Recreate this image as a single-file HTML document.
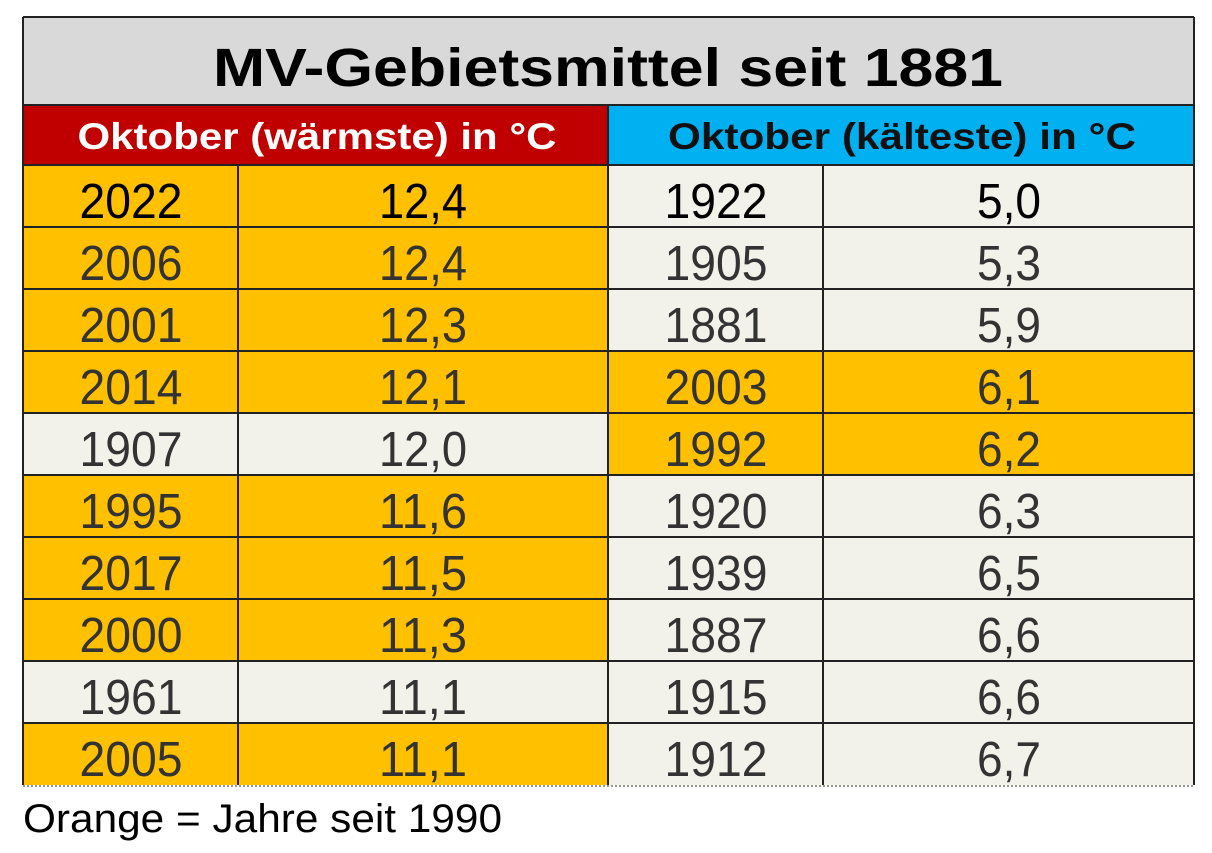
<!DOCTYPE html>
<html><head><meta charset="utf-8"><style>
html,body{margin:0;padding:0;background:#fff;width:1212px;height:853px;overflow:hidden}
svg{display:block}
text{font-family:"Liberation Sans",Arial,sans-serif}
</style></head><body>
<svg width="1212" height="853" viewBox="0 0 1212 853" xmlns="http://www.w3.org/2000/svg">
<rect x="0" y="0" width="1212" height="853" fill="#fff"/>
<rect x="23" y="17" width="1171" height="88" fill="#d9d9d9"/>
<rect x="23" y="105" width="585" height="60" fill="#c00000"/>
<rect x="608" y="105" width="586" height="60" fill="#00b0f0"/>
<g id="rows">
<!-- left -->
<rect x="23" y="165" width="585" height="62" fill="#ffc000"/>
<rect x="23" y="227" width="585" height="62" fill="#ffc000"/>
<rect x="23" y="289" width="585" height="62" fill="#ffc000"/>
<rect x="23" y="351" width="585" height="62" fill="#ffc000"/>
<rect x="23" y="413" width="585" height="62" fill="#f2f2ea"/>
<rect x="23" y="475" width="585" height="62" fill="#ffc000"/>
<rect x="23" y="537" width="585" height="62" fill="#ffc000"/>
<rect x="23" y="599" width="585" height="62" fill="#ffc000"/>
<rect x="23" y="661" width="585" height="62" fill="#f2f2ea"/>
<rect x="23" y="723" width="585" height="62" fill="#ffc000"/>
<!-- right -->
<rect x="608" y="165" width="586" height="620" fill="#f2f2ea"/>
<rect x="608" y="351" width="586" height="124" fill="#ffc000"/>
</g>
<g stroke="#222" stroke-width="2" fill="none">
<rect x="23" y="17" width="1171" height="768" stroke="none"/>
<line x1="23" y1="17" x2="1194" y2="17"/>
<line x1="23" y1="17" x2="23" y2="785"/>
<line x1="1194" y1="17" x2="1194" y2="785"/>
<line x1="23" y1="105" x2="1194" y2="105"/>
<line x1="608" y1="105" x2="608" y2="785"/>
<line x1="238" y1="165" x2="238" y2="785"/>
<line x1="823" y1="165" x2="823" y2="785"/>
<line x1="23" y1="165" x2="1194" y2="165"/>
<line x1="23" y1="227" x2="1194" y2="227"/>
<line x1="23" y1="289" x2="1194" y2="289"/>
<line x1="23" y1="351" x2="1194" y2="351"/>
<line x1="23" y1="413" x2="1194" y2="413"/>
<line x1="23" y1="475" x2="1194" y2="475"/>
<line x1="23" y1="537" x2="1194" y2="537"/>
<line x1="23" y1="599" x2="1194" y2="599"/>
<line x1="23" y1="661" x2="1194" y2="661"/>
<line x1="23" y1="723" x2="1194" y2="723"/>
</g>
<line x1="23" y1="786" x2="1194" y2="786" stroke="#999" stroke-width="2" stroke-dasharray="2,2"/>
<text x="608" y="86" text-anchor="middle" font-size="54" font-weight="bold" fill="#000" textLength="790" lengthAdjust="spacingAndGlyphs">MV-Gebietsmittel seit 1881</text>
<text x="317" y="149" text-anchor="middle" font-size="37" font-weight="bold" fill="#fff" textLength="479" lengthAdjust="spacingAndGlyphs">Oktober (wärmste) in °C</text>
<text x="902" y="149" text-anchor="middle" font-size="37" font-weight="bold" fill="#111" textLength="468" lengthAdjust="spacingAndGlyphs">Oktober (kälteste) in °C</text>
<g font-size="49" text-anchor="middle" fill="#333">
<text x="131" y="218" fill="#000" textLength="103" lengthAdjust="spacingAndGlyphs">2022</text><text x="423" y="218" fill="#000" textLength="88" lengthAdjust="spacingAndGlyphs">12,4</text>
<text x="131" y="280" textLength="103" lengthAdjust="spacingAndGlyphs">2006</text><text x="423" y="280" textLength="88" lengthAdjust="spacingAndGlyphs">12,4</text>
<text x="131" y="342" textLength="103" lengthAdjust="spacingAndGlyphs">2001</text><text x="423" y="342" textLength="88" lengthAdjust="spacingAndGlyphs">12,3</text>
<text x="131" y="404" textLength="103" lengthAdjust="spacingAndGlyphs">2014</text><text x="423" y="404" textLength="88" lengthAdjust="spacingAndGlyphs">12,1</text>
<text x="131" y="466" textLength="103" lengthAdjust="spacingAndGlyphs">1907</text><text x="423" y="466" textLength="88" lengthAdjust="spacingAndGlyphs">12,0</text>
<text x="131" y="528" textLength="103" lengthAdjust="spacingAndGlyphs">1995</text><text x="423" y="528" textLength="88" lengthAdjust="spacingAndGlyphs">11,6</text>
<text x="131" y="590" textLength="103" lengthAdjust="spacingAndGlyphs">2017</text><text x="423" y="590" textLength="88" lengthAdjust="spacingAndGlyphs">11,5</text>
<text x="131" y="652" textLength="103" lengthAdjust="spacingAndGlyphs">2000</text><text x="423" y="652" textLength="88" lengthAdjust="spacingAndGlyphs">11,3</text>
<text x="131" y="714" textLength="103" lengthAdjust="spacingAndGlyphs">1961</text><text x="423" y="714" textLength="88" lengthAdjust="spacingAndGlyphs">11,1</text>
<text x="131" y="776" textLength="103" lengthAdjust="spacingAndGlyphs">2005</text><text x="423" y="776" textLength="88" lengthAdjust="spacingAndGlyphs">11,1</text>
<text x="716" y="218" fill="#000" textLength="103" lengthAdjust="spacingAndGlyphs">1922</text><text x="1009" y="218" fill="#000" textLength="64" lengthAdjust="spacingAndGlyphs">5,0</text>
<text x="716" y="280" textLength="103" lengthAdjust="spacingAndGlyphs">1905</text><text x="1009" y="280" textLength="64" lengthAdjust="spacingAndGlyphs">5,3</text>
<text x="716" y="342" textLength="103" lengthAdjust="spacingAndGlyphs">1881</text><text x="1009" y="342" textLength="64" lengthAdjust="spacingAndGlyphs">5,9</text>
<text x="716" y="404" textLength="103" lengthAdjust="spacingAndGlyphs">2003</text><text x="1009" y="404" textLength="64" lengthAdjust="spacingAndGlyphs">6,1</text>
<text x="716" y="466" textLength="103" lengthAdjust="spacingAndGlyphs">1992</text><text x="1009" y="466" textLength="64" lengthAdjust="spacingAndGlyphs">6,2</text>
<text x="716" y="528" textLength="103" lengthAdjust="spacingAndGlyphs">1920</text><text x="1009" y="528" textLength="64" lengthAdjust="spacingAndGlyphs">6,3</text>
<text x="716" y="590" textLength="103" lengthAdjust="spacingAndGlyphs">1939</text><text x="1009" y="590" textLength="64" lengthAdjust="spacingAndGlyphs">6,5</text>
<text x="716" y="652" textLength="103" lengthAdjust="spacingAndGlyphs">1887</text><text x="1009" y="652" textLength="64" lengthAdjust="spacingAndGlyphs">6,6</text>
<text x="716" y="714" textLength="103" lengthAdjust="spacingAndGlyphs">1915</text><text x="1009" y="714" textLength="64" lengthAdjust="spacingAndGlyphs">6,6</text>
<text x="716" y="776" textLength="103" lengthAdjust="spacingAndGlyphs">1912</text><text x="1009" y="776" textLength="64" lengthAdjust="spacingAndGlyphs">6,7</text>
</g>
<text x="23" y="832" font-size="40" fill="#000" textLength="479" lengthAdjust="spacingAndGlyphs">Orange = Jahre seit 1990</text>
</svg>
</body></html>
